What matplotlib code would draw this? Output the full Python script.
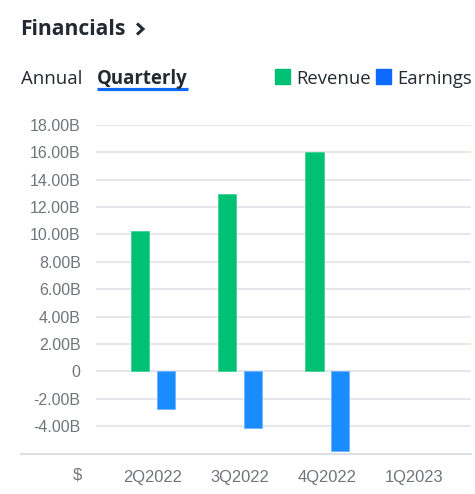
import matplotlib
matplotlib.use("Agg")
import matplotlib.pyplot as plt
from matplotlib.lines import Line2D
import numpy as np

# 数据
quarters = ['2Q2022', '3Q2022', '4Q2022', '1Q2023']
revenue = [10.23, 12.93, 16.0, np.nan]     # 单位 B
earnings = [-2.72, -4.12, -5.8, np.nan]
yticks = [-4, -2, 0, 2, 4, 6, 8, 10, 12, 14, 16, 18]

dark = '#232a31'
gray = '#70757a'
green = '#00c073'
blue_bar = '#1a8cff'
blue_ui = '#0f69ff'

fig = plt.figure(figsize=(4.75, 4.94), dpi=100)
W, H = 475, 494

def fx(px):
    return px / W

def fy(py):
    return 1 - py / H

ax = fig.add_axes([fx(96), fy(453.5), fx(471) - fx(96), fy(125) - fy(453.5)])

x = np.arange(len(quarters))
ax.bar(x - 0.146, revenue, width=0.21, color=green, edgecolor='#3fd394', linewidth=0.6, zorder=3)
ax.bar(x + 0.149, earnings, width=0.21, color=blue_bar, edgecolor='#6cb5ff', linewidth=0.6, zorder=3)

ax.set_xlim(-0.65, 3.65)
ax.set_ylim(-6, 18)
ax.set_yticks(yticks)
ax.set_yticklabels(['0' if v == 0 else '%.2fB' % v for v in yticks])
ax.set_xticks(x)
ax.set_xticklabels(quarters)
ax.grid(axis='y', color='#e3e5ea', linewidth=1.3, zorder=0)
for s in ax.spines.values():
    s.set_visible(False)
ax.tick_params(length=0, colors=gray, labelsize=11.5, pad=11)
ax.tick_params(axis='x', pad=12, labelsize=11.9)
for lab in ax.get_xticklabels() + ax.get_yticklabels():
    lab.set_fontfamily('Liberation Sans')

# 底部横线
fig.add_artist(Line2D([fx(21), fx(471)], [fy(453.5), fy(453.5)], color='#dcdfe4', linewidth=1.5))
fig.text(fx(77), fy(475), '$', ha='center', va='center', color=gray, fontsize=11.9, family='Liberation Sans')

# 标题
fig.text(fx(20), fy(35), 'Financials', ha='left', va='baseline', color=dark,
         fontsize=15.2, fontweight='bold', family='Open Sans')
fig.add_artist(Line2D([fx(137), fx(143), fx(137)], [fy(23.5), fy(29), fy(34.5)],
                      color=dark, linewidth=2.2, solid_capstyle='butt', solid_joinstyle='miter'))

fig.text(fx(21), fy(84), 'Annual', ha='left', va='baseline', color=dark, fontsize=13.4, family='Open Sans')
fig.text(fx(97), fy(84), 'Quarterly', ha='left', va='baseline', color=dark, fontsize=13.4,
         fontweight='bold', family='Open Sans')
fig.add_artist(Line2D([fx(97), fx(188)], [fy(89), fy(89)], color=blue_ui, linewidth=2.3, solid_capstyle='butt'))

# 图例
fig.patches.append(plt.Rectangle((fx(275), fy(84)), fx(15), fy(69) - fy(84), transform=fig.transFigure,
                                 color=green, figure=fig))
fig.text(fx(296), fy(84), 'Revenue', ha='left', va='baseline', color=dark, fontsize=13.3, family='Open Sans')
fig.patches.append(plt.Rectangle((fx(376), fy(84)), fx(15), fy(69) - fy(84), transform=fig.transFigure,
                                 color=blue_ui, figure=fig))
fig.text(fx(397), fy(84), 'Earnings', ha='left', va='baseline', color=dark, fontsize=13.3, family='Open Sans')

fig.savefig('out.png', dpi=100, facecolor='white')
